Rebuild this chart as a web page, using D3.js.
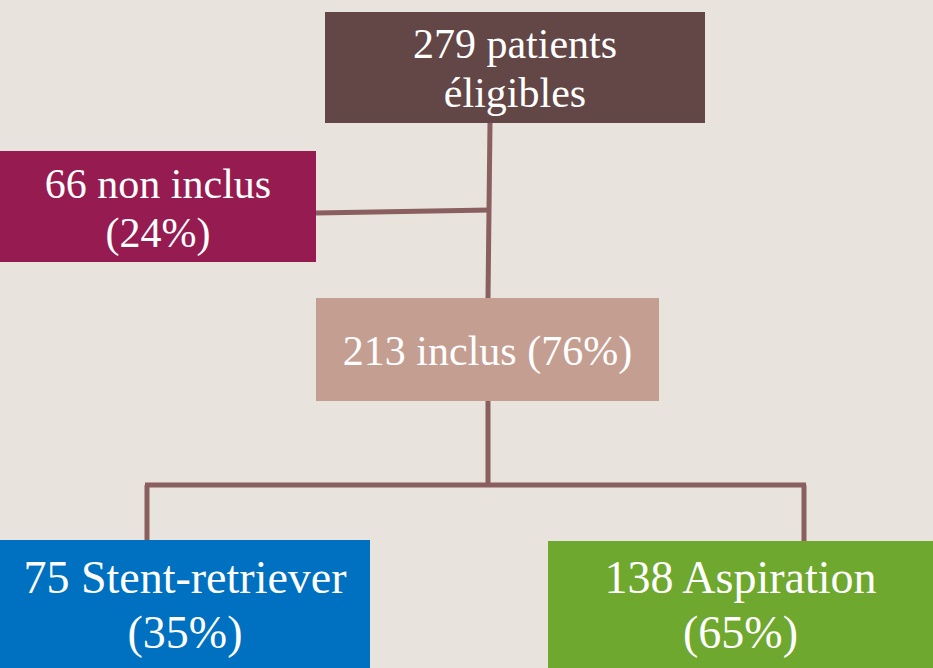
<!DOCTYPE html>
<html>
<head>
<meta charset="utf-8">
<script src="https://cdn.jsdelivr.net/npm/d3@7"></script>
<style>
  html, body { margin: 0; padding: 0; background: #e8e3dd; }
  svg { display: block; }
</style>
</head>
<body>
<svg id="chart" width="933" height="668"></svg>
<script>
// ----- data
const nodeIds = ['eligible', 'excluded', 'included', 'stent', 'aspiration'];
const nodeCounts = [279, 66, 213, 75, 138];
const nodeLines = [
    ['279 patients', 'éligibles'],
    ['66 non inclus', '(24%)'],
    ['213 inclus (76%)'],
    ['75 Stent-retriever', '(35%)'],
    ['138 Aspiration', '(65%)'],
];

// ----- layout (boxes: x0, y0, x1, y1)
const boxes = {
    eligible: { x0: 325, y0: 12, x1: 705, y1: 123, fill: '#634646', size: 42, base: 58, lead: 49 },
    excluded: { x0: 0, y0: 151, x1: 316, y1: 262, fill: '#961b51', size: 42, base: 198, lead: 49 },
    included: { x0: 316, y0: 298, x1: 659, y1: 401, fill: '#c59e92', size: 42, base: 365, lead: 49 },
    stent: { x0: 0, y0: 540, x1: 370, y1: 668, fill: '#0070c0', size: 46, base: 593, lead: 55 },
    aspiration: { x0: 548, y0: 541, x1: 933, y1: 668, fill: '#6fa82e', size: 46, base: 593, lead: 55 },
};

const svg = d3.select('#chart');
const lineColor = '#8a5f5f';
const serif = "'Liberation Serif', 'DejaVu Serif', serif";

// ----- connectors
const gLinks = svg.append('g')
    .attr('fill', 'none')
    .attr('stroke', lineColor)
    .attr('stroke-width', 5);

const trunkX = 490;
// eligible -> included (slightly slanted trunk) and branch to excluded
gLinks.append('path')
    .attr('d', d3.line()([[trunkX, boxes.eligible.y1], [trunkX - 2, boxes.included.y0]]));
gLinks.append('path')
    .attr('d', d3.line()([[boxes.excluded.x1, 213], [trunkX, 210]]));

// included -> two arms
const splitY = 485;
const armX = [147, 804];
gLinks.append('path')
    .attr('d', d3.line()([[488, boxes.included.y1], [488, splitY]]));
gLinks.append('path')
    .attr('d', d3.line()([[armX[0] - 2, splitY], [armX[1] + 2, splitY]]));
gLinks.append('path')
    .attr('d', d3.line()([[armX[0], splitY], [armX[0], boxes.stent.y0]]));
gLinks.append('path')
    .attr('d', d3.line()([[armX[1], splitY], [armX[1], boxes.aspiration.y0]]));

// ----- boxes
const nodes = nodeIds.map((id, i) => ({ id, count: nodeCounts[i], lines: nodeLines[i], box: boxes[id] }));

const gNode = svg.append('g').selectAll('g')
    .data(nodes)
    .join('g');

gNode.append('rect')
    .attr('x', d => d.box.x0)
    .attr('y', d => d.box.y0)
    .attr('width', d => d.box.x1 - d.box.x0)
    .attr('height', d => d.box.y1 - d.box.y0)
    .attr('fill', d => d.box.fill);

gNode.append('text')
    .attr('text-anchor', 'middle')
    .style('font-family', serif)
    .attr('fill', '#fff')
    .attr('font-size', d => d.box.size)
    .selectAll('tspan')
    .data(d => d.lines.map((t, j) => ({ t, j, box: d.box })))
    .join('tspan')
    .attr('x', d => (d.box.x0 + d.box.x1) / 2)
    .attr('y', d => d.box.base + d.j * d.box.lead)
    .text(d => d.t);
</script>
</body>
</html>
